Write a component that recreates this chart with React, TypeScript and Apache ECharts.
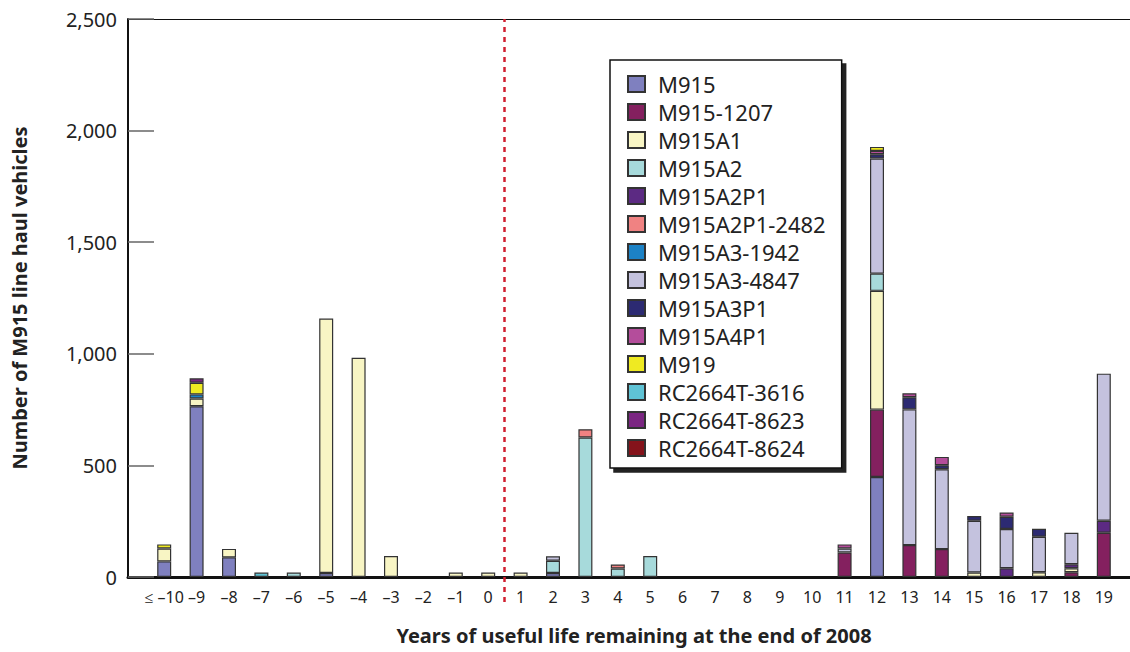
import React, { useEffect, useRef } from "react";
import * as echarts from "echarts";

const categories = [
  "≤ –10", "–9", "–8", "–7", "–6", "–5", "–4", "–3", "–2", "–1", "0",
  "1", "2", "3", "4", "5", "6", "7", "8", "9", "10",
  "11", "12", "13", "14", "15", "16", "17", "18", "19",
];

const _ = null;
// values per category, order: ≤-10 … 19
const M915 =         [70, 765, 88, _, _, 18, _, _, _, _, _,   _, 18, _, _, _, _, _, _, _, _,   _, 448, _, _, _, _, _, _, _];
const M915_1207 =    [_, _, _, _, _, _, _, _, _, _, _,        _, _, _, _, _, _, _, _, _, _,    110, 302, 143, 125, _, _, _, 21, 198];
const M915A1 =       [58, 35, 38, _, _, 1140, 982, 94, _, 20, 20, 20, _, _, _, _, _, _, _, _, _, _, 532, _, _, 20, _, 21, 18, _];
const M915A2 =       [_, _, _, _, 20, _, _, _, _, _, _,       _, 55, 625, 38, 94, _, _, _, _, _, _, 77, _, _, _, _, _, _, _];
const M915A2P1 =     [_, _, _, _, _, _, _, _, _, _, _,        _, _, _, _, _, _, _, _, _, _,    _, _, _, _, _, 39, _, 18, 54];
const M915A2P1_2482 =[_, _, _, _, _, _, _, _, _, _, _,        _, _, 37, 18, _, _, _, _, _, _,  _, _, _, _, _, _, _, _, _];
const M915A3_1942 =  [_, 18, _, _, _, _, _, _, _, _, _,       _, _, _, _, _, _, _, _, _, _,    _, _, _, _, _, _, _, _, _];
const M915A3_4847 =  [_, _, _, _, _, _, _, _, _, _, _,        _, 20, _, _, _, _, _, _, _, _,   18, 516, 608, 358, 232, 176, 159, 141, 659];
const M915A3P1 =     [_, _, _, _, _, _, _, _, _, _, _,        _, _, _, _, _, _, _, _, _, _,    _, 19, 54, 18, 21, 55, 36, _, _];
const M915A4P1 =     [_, _, _, _, _, _, _, _, _, _, _,        _, _, _, _, _, _, _, _, _, _,    18, 15, 18, 37, _, 19, _, _, _];
const M919 =         [18, 52, _, _, _, _, _, _, _, _, _,      _, _, _, _, _, _, _, _, _, _,    _, 18, _, _, _, _, _, _, _];
const RC2664T_3616 = [_, _, _, 20, _, _, _, _, _, _, _,       _, _, _, _, _, _, _, _, _, _,    _, _, _, _, _, _, _, _, _];
const RC2664T_8623 = [_, 20, _, _, _, _, _, _, _, _, _,       _, _, _, _, _, _, _, _, _, _,    _, _, _, _, _, _, _, _, _];
const RC2664T_8624 = [_, _, _, _, _, _, _, _, _, _, _,        _, _, _, _, _, _, _, _, _, _,    _, _, _, _, _, _, _, _, _];

const seriesDefs = [
  { name: "M915", data: M915, color: "#7f80bf" },
  { name: "M915-1207", data: M915_1207, color: "#84205f" },
  { name: "M915A1", data: M915A1, color: "#f8f5c4" },
  { name: "M915A2", data: M915A2, color: "#a7dadb" },
  { name: "M915A2P1", data: M915A2P1, color: "#5c2a83" },
  { name: "M915A2P1-2482", data: M915A2P1_2482, color: "#f08282" },
  { name: "M915A3-1942", data: M915A3_1942, color: "#1c82c6" },
  { name: "M915A3-4847", data: M915A3_4847, color: "#c4c2de" },
  { name: "M915A3P1", data: M915A3P1, color: "#2c2a72" },
  { name: "M915A4P1", data: M915A4P1, color: "#b44d9b" },
  { name: "M919", data: M919, color: "#efea22" },
  { name: "RC2664T-3616", data: RC2664T_3616, color: "#5fc3d5" },
  { name: "RC2664T-8623", data: RC2664T_8623, color: "#7b2682" },
  { name: "RC2664T-8624", data: RC2664T_8624, color: "#85131b" },
];

const yTicks = [0, 500, 1000, 1500, 2000, 2500];

export default function App() {
  const ref = useRef<HTMLDivElement>(null);
  useEffect(() => {
    if (!ref.current) return;
    const chart = echarts.init(ref.current, undefined, { renderer: "svg" });
    const font = "Noto Sans";
    const option: any = {
      animation: false,
      textStyle: { fontFamily: font },
      grid: [
        { left: 128, right: 0, top: 19, bottom: 75 },
        { left: 148, right: 10, top: 19, bottom: 75 },
        { left: 148, right: 10, top: 19, bottom: 50 },
      ],
      xAxis: [
        {
          type: "value", gridIndex: 0, min: 0, max: 1, position: "bottom",
          axisLine: { show: true, lineStyle: { color: "#111", width: 3 } },
          axisTick: { show: false }, axisLabel: { show: false }, splitLine: { show: false },
        },
        {
          type: "value", gridIndex: 0, min: 0, max: 1, position: "top",
          axisLine: { show: true, lineStyle: { color: "#111", width: 1.2 } },
          axisTick: { show: false }, axisLabel: { show: false }, splitLine: { show: false },
        },
        {
          type: "category", gridIndex: 1, data: categories,
          axisLine: { show: false }, axisTick: { show: false },
          axisLabel: { fontSize: 16, color: "#222", margin: 12, interval: 0 },
          name: "Years of useful life remaining at the end of 2008",
          nameLocation: "middle", nameGap: 48,
          nameTextStyle: { fontSize: 20, fontWeight: "bold", color: "#222" },
        },
        {
          type: "value", gridIndex: 2, min: -0.5, max: 29.5, show: false,
        },
      ],
      yAxis: [
        {
          type: "value", gridIndex: 0, min: 0, max: 2500, interval: 500,
          axisLine: { show: true, lineStyle: { color: "#111", width: 2 } },
          axisTick: { show: true, inside: true, length: 26, lineStyle: { color: "#666", width: 1.5 } },
          axisLabel: {
            fontSize: 20, color: "#222", margin: 11,
            formatter: (v: number) => (yTicks.includes(v) ? v.toLocaleString("en-US") : ""),
          },
          splitLine: { show: false },
          name: "Number of M915 line haul vehicles",
          nameLocation: "middle", nameGap: 99, nameRotate: 90,
          nameTextStyle: { fontSize: 20, fontWeight: "bold", color: "#222" },
        },
        { type: "value", gridIndex: 1, min: 0, max: 2500, show: false },
        { type: "value", gridIndex: 2, min: 0, max: 1, show: false },
      ],
      legend: {
        orient: "vertical", left: 610, top: 60, icon: "rect",
        backgroundColor: "#fff", borderColor: "#111", borderWidth: 1.5,
        padding: [13, 16, 9, 17],
        itemWidth: 17, itemHeight: 16, itemGap: 6,
        textStyle: { fontSize: 22, lineHeight: 18, color: "#222", padding: [0, 0, 0, 8] },
        shadowColor: "#222", shadowBlur: 0, shadowOffsetX: 4, shadowOffsetY: 4,
        data: seriesDefs.map((s) => s.name),
      },
      series: [
        ...seriesDefs.map((s) => ({
          name: s.name, type: "bar", stack: "total",
          xAxisIndex: 2, yAxisIndex: 1, barWidth: 14,
          data: s.data,
          itemStyle: { color: s.color, borderColor: "#333", borderWidth: 1.2 },
        })),
        {
          type: "line", xAxisIndex: 3, yAxisIndex: 2, data: [[10.5, 0]],
          showSymbol: false, symbol: "none", silent: true, lineStyle: { opacity: 0 },
          markLine: {
            silent: true, symbol: "none", label: { show: false },
            lineStyle: { color: "#d12030", type: [5, 5], width: 2.5 },
            data: [{ xAxis: 10.5 }],
          },
        },
      ],
    };
    chart.setOption(option);
    return () => chart.dispose();
  }, []);
  return <div ref={ref} style={{ width: 1130, height: 652, position: "absolute", left: 0, top: 0 }} />;
}
